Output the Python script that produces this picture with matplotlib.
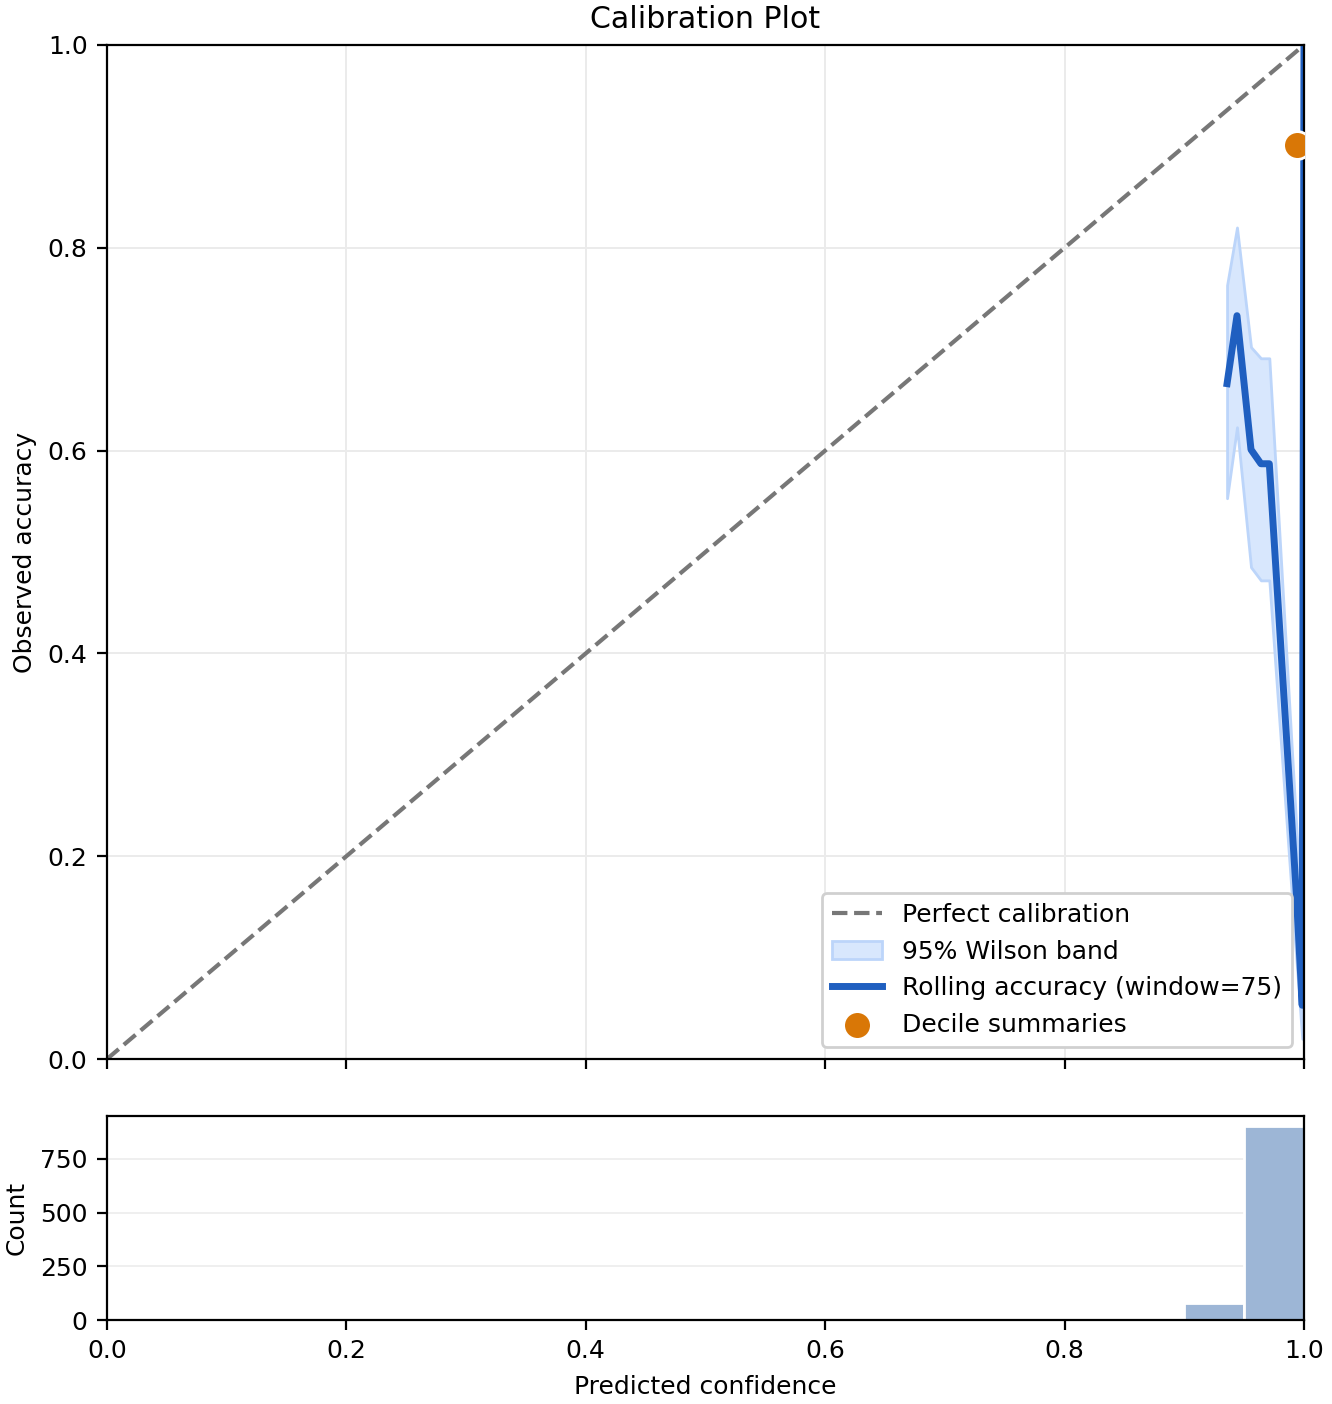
import numpy as np
import matplotlib
matplotlib.use("Agg")
import matplotlib.pyplot as plt

plt.rcParams["font.size"] = 9

# ---- data ----
roll_x = [0.9357, 0.9440, 0.9557, 0.9640, 0.9710, 0.9935, 0.9985, 0.99995]
roll_acc = [0.666, 0.733, 0.601, 0.587, 0.587, 0.164, 0.053, 1.000]
band_lo = [0.553, 0.623, 0.485, 0.472, 0.472, 0.100, 0.020, 0.950]
band_hi = [0.763, 0.820, 0.702, 0.691, 0.691, 0.230, 0.130, 1.000]

decile_x = [0.9940]
decile_y = [0.901]

hist_edges = np.linspace(0.0, 1.0, 21)
hist_counts = [0]*18 + [78, 905]

xticks = [0.0, 0.2, 0.4, 0.6, 0.8, 1.0]
yticks = [0.0, 0.2, 0.4, 0.6, 0.8, 1.0]
hticks = [0, 250, 500, 750]

# ---- figure ----
fig = plt.figure(figsize=(6.66, 7.02), dpi=200)
ax = fig.add_axes([0.0803, 0.2457, 0.8987, 0.7223])
axh = fig.add_axes([0.0803, 0.0598, 0.8987, 0.1453], sharex=ax)

ax.plot([0, 1], [0, 1], ls="--", color="#777777", lw=1.5, label="Perfect calibration")
ax.fill_between(roll_x, band_lo, band_hi, facecolor="#d8e7fd", edgecolor="#bcd5fa",
                lw=1.0, label="95% Wilson band")
ax.plot(roll_x, roll_acc, color="#1f5fc0", lw=2.5, label="Rolling accuracy (window=75)")
ax.scatter(decile_x, decile_y, s=100, color="#d97706", edgecolor="white", lw=1.0,
           zorder=5, label="Decile summaries")

ax.set_xlim(0, 1)
ax.set_ylim(0, 1)
ax.set_xticks(xticks)
ax.set_yticks(yticks)
ax.tick_params(labelbottom=False)
ax.grid(True, color="#ebebeb", lw=0.7)
ax.set_axisbelow(True)
ax.set_ylabel("Observed accuracy")
ax.set_title("Calibration Plot")
leg = ax.legend(loc="lower right", framealpha=1.0, edgecolor="#d0d0d0")

centers = (hist_edges[:-1] + hist_edges[1:]) / 2
axh.hist(centers, bins=hist_edges, weights=hist_counts, color="#9db6d6",
         edgecolor="white", lw=1.0)
axh.set_yticks(hticks)
axh.set_ylim(0, 950)
axh.grid(True, axis="y", color="#efefef", lw=0.7)
axh.set_axisbelow(True)
axh.set_ylabel("Count")
axh.set_xlabel("Predicted confidence")
axh.set_xticks(xticks)

fig.savefig("out.png", dpi=200)
